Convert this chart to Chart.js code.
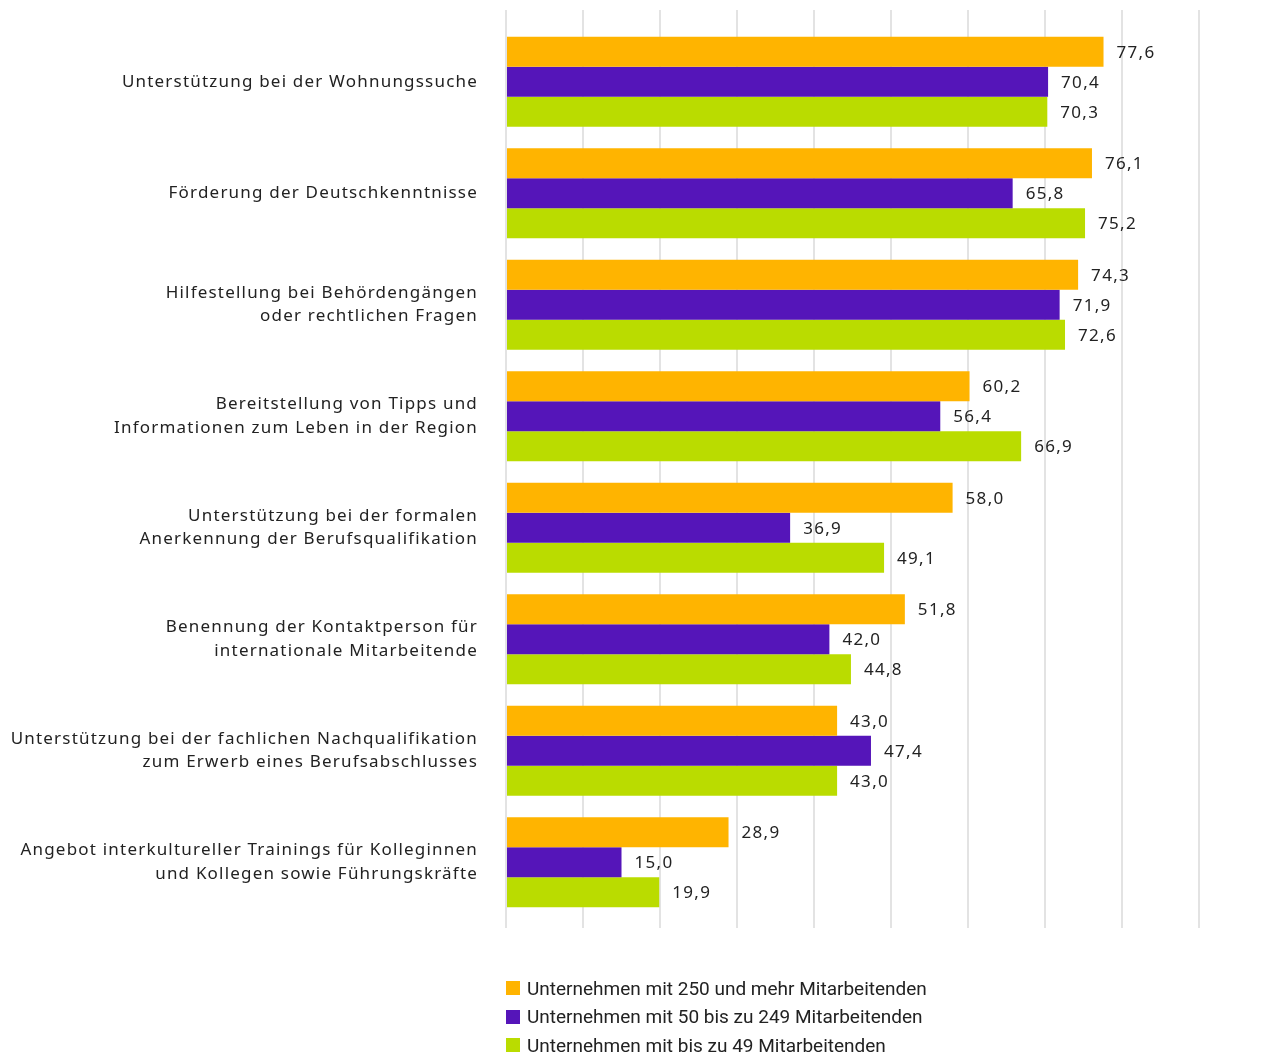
<!DOCTYPE html>
<html>
<head>
<meta charset="utf-8">
<script src="https://cdn.jsdelivr.net/npm/chart.js@4"></script>
<style>
  body { margin: 0; background: #fff; }
  #wrap { position: relative; width: 1274px; height: 1054px; }
  #legend { position: absolute; left: 506px; top: 974px; font-family: Roboto, sans-serif; font-size: 19px; color: #222; }
  #legend div { height: 28.5px; display: flex; align-items: center; }
  #legend span.box { display: inline-block; width: 14px; height: 14px; margin-right: 7px; }
</style>
</head>
<body>
<div id="wrap">
  <canvas id="chart"></canvas>
  <div id="legend"></div>
</div>
<script>
// categories
var categories = [
  ["Unterstützung bei der Wohnungssuche"],
  ["Förderung der Deutschkenntnisse"],
  ["Hilfestellung bei Behördengängen", "oder rechtlichen Fragen"],
  ["Bereitstellung von Tipps und", "Informationen zum Leben in der Region"],
  ["Unterstützung bei der formalen", "Anerkennung der Berufsqualifikation"],
  ["Benennung der Kontaktperson für", "internationale Mitarbeitende"],
  ["Unterstützung bei der fachlichen Nachqualifikation", "zum Erwerb eines Berufsabschlusses"],
  ["Angebot interkultureller Trainings für Kolleginnen", "und Kollegen sowie Führungskräfte"]
];

var seriesNames = [
  "Unternehmen mit 250 und mehr Mitarbeitenden",
  "Unternehmen mit 50 bis zu 249 Mitarbeitenden",
  "Unternehmen mit bis zu 49 Mitarbeitenden"
];

var large = [77.6, 76.1, 74.3, 60.2, 58.0, 51.8, 43.0, 28.9];
var medium = [70.4, 65.8, 71.9, 56.4, 36.9, 42.0, 47.4, 15.0];
var small = [70.3, 75.2, 72.6, 66.9, 49.1, 44.8, 43.0, 19.9];

var colors = ["#FFB400", "#5515B9", "#BADC00"];
var gridColor = "#e3e3e3";
var labelFont = { family: "'Noto Sans', sans-serif", size: 17, lineHeight: 1.38 };

// draw value labels next to each bar
var valueLabels = {
  id: "valueLabels",
  afterDatasetsDraw: function(chart) {
    var ctx = chart.ctx;
    ctx.save();
    ctx.letterSpacing = "1.3px";
    ctx.font = "17px 'Noto Sans', sans-serif";
    ctx.fillStyle = "#222";
    ctx.textAlign = "left";
    ctx.textBaseline = "middle";
    chart.data.datasets.forEach(function(ds, i) {
      var meta = chart.getDatasetMeta(i);
      meta.data.forEach(function(bar, j) {
        var txt = ds.data[j].toFixed(1).replace(".", ",");
        ctx.fillText(txt, bar.x + 13, bar.y + 1);
      });
    });
    ctx.restore();
  }
};

var spacing = {
  id: "spacing",
  beforeDraw: function(chart) {
    chart.ctx.letterSpacing = "1.2px";
  }
};

var htmlLegend = {
  id: "htmlLegend",
  afterUpdate: function(chart) {
    var box = document.getElementById("legend");
    box.innerHTML = "";
    chart.data.datasets.forEach(function(ds) {
      var row = document.createElement("div");
      var sw = document.createElement("span");
      sw.className = "box";
      sw.style.background = ds.backgroundColor;
      row.appendChild(sw);
      row.appendChild(document.createTextNode(ds.label));
      box.appendChild(row);
    });
  }
};

new Chart(document.getElementById("chart"), {
  type: "bar",
  data: {
    labels: categories,
    datasets: [
      { label: seriesNames[0], data: large, backgroundColor: colors[0] },
      { label: seriesNames[1], data: medium, backgroundColor: colors[1] },
      { label: seriesNames[2], data: small, backgroundColor: colors[2] }
    ]
  },
  options: {
    indexAxis: "y",
    responsive: true,
    maintainAspectRatio: false,
    animation: false,
    barPercentage: 1,
    categoryPercentage: 0.807,
    layout: { padding: { top: 10, right: 75, bottom: 126, left: 0 } },
    plugins: {
      legend: { display: false },
      tooltip: { enabled: false }
    },
    scales: {
      x: {
        type: "linear",
        position: "bottom",
        min: 0,
        max: 90,
        ticks: { stepSize: 10, display: false },
        grid: { color: gridColor, lineWidth: 2, tickLength: 10 },
        border: { display: false },
        afterFit: function(scale) { scale.height = 10; }
      },
      x2: {
        type: "linear",
        position: "top",
        min: 0,
        max: 90,
        ticks: { stepSize: 10, display: false },
        grid: { color: gridColor, lineWidth: 2, tickLength: 16, drawOnChartArea: false },
        border: { display: false },
        afterFit: function(scale) { scale.height = 16; }
      },
      y: {
        grid: { display: false, drawTicks: false },
        border: { display: false },
        ticks: { padding: 28, color: "#222", font: labelFont },
        afterFit: function(scale) {
          scale.width = 506;
          scale.paddingTop = 0;
          scale.paddingBottom = 0;
        }
      }
    }
  },
  plugins: [spacing, valueLabels, htmlLegend]
});
</script>
</body>
</html>
